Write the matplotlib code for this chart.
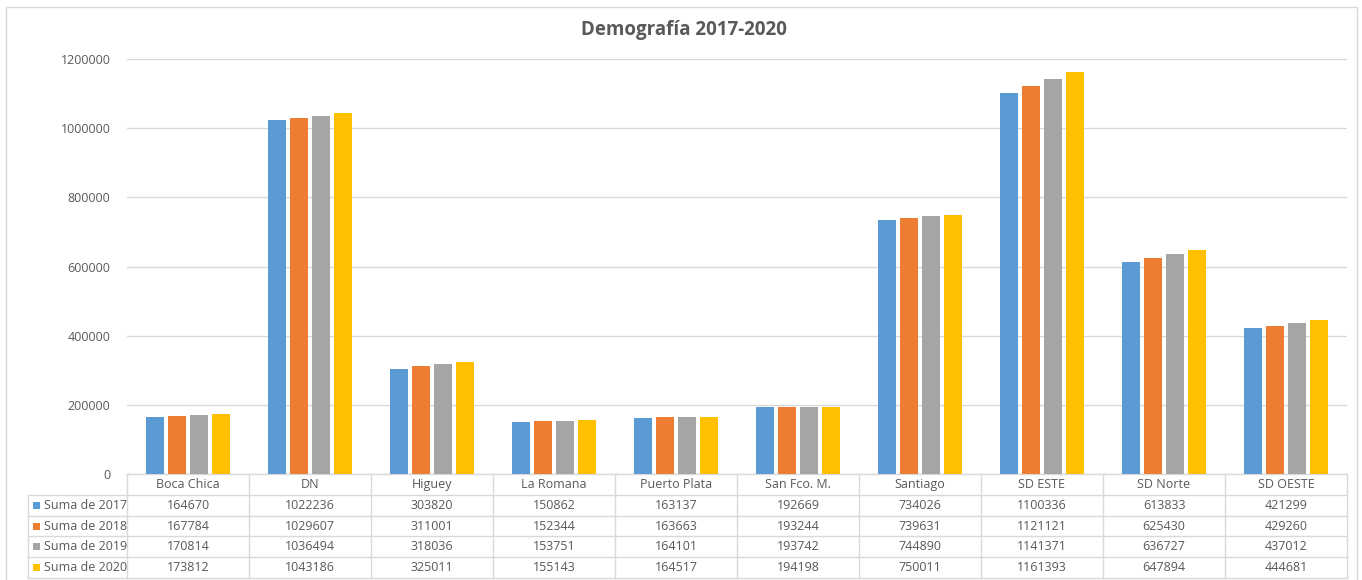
import numpy as np
import matplotlib
matplotlib.use("Agg")
import matplotlib.pyplot as plt
from matplotlib.patches import Rectangle
from matplotlib.transforms import blended_transform_factory

plt.rcParams['font.family'] = ['Open Sans', 'DejaVu Sans']

categories = ["Boca Chica", "DN", "Higuey", "La Romana", "Puerto Plata",
              "San Fco. M.", "Santiago", "SD ESTE", "SD Norte", "SD OESTE"]
series_names = ["Suma de 2017", "Suma de 2018", "Suma de 2019", "Suma de 2020"]
v2017 = [164670, 1022236, 303820, 150862, 163137, 192669, 734026, 1100336, 613833, 421299]
v2018 = [167784, 1029607, 311001, 152344, 163663, 193244, 739631, 1121121, 625430, 429260]
v2019 = [170814, 1036494, 318036, 153751, 164101, 193742, 744890, 1141371, 636727, 437012]
v2020 = [173812, 1043186, 325011, 155143, 164517, 194198, 750011, 1161393, 647894, 444681]
series = [v2017, v2018, v2019, v2020]
colors = ["#5B9BD5", "#ED7D31", "#A5A5A5", "#FFC000"]

W, H = 1362, 580
fig = plt.figure(figsize=(W / 100, H / 100), dpi=100)

# outer chart border
fig.add_artist(Rectangle((6 / W, -0.01), (1357 - 6) / W, 1 - 7 / H + 0.01,
                         transform=fig.transFigure, fill=False,
                         edgecolor="#d9d9d9", linewidth=1))

left, right, top, bottom = 127, 1347, 59, 474
ax = fig.add_axes([left / W, 1 - bottom / H, (right - left) / W, (bottom - top) / H])

n = len(categories)
x = np.arange(n)
step = 0.18
for i, (vals, c) in enumerate(zip(series, colors)):
    ax.bar(x + (i - 1.5) * step, vals, width=0.15, color=c, zorder=3)

ax.set_xlim(-0.5, n - 0.5)
ax.set_ylim(0, 1200000)
ax.set_yticks(np.arange(0, 1200001, 200000))
ax.set_yticklabels([str(t) for t in range(0, 1200001, 200000)])
ax.tick_params(axis='y', length=0, pad=12, labelsize=9, labelcolor="#595959")
ax.set_xticks([])
ax.grid(axis='y', color="#d9d9d9", linewidth=1, zorder=0)
for s in ax.spines.values():
    s.set_visible(False)

fig.text(684 / W, 1 - 30 / H, "Demografía 2017-2020",
         ha='center', va='center', fontsize=13.5, fontweight='bold', color="#595959")

# data table drawn by hand: x in data units, y in axes fraction
tr = blended_transform_factory(ax.transData, ax.transAxes)
px_x = n / (right - left)          # data units per pixel
px_y = 1 / (bottom - top)          # axes fraction per pixel
row_h = 20.8 * px_y
x_lab = -0.5 - (left - 28) * px_x  # left edge of row-label column
lc = "#d9d9d9"
kw = dict(transform=tr, clip_on=False, color=lc, linewidth=1)

# horizontal lines
for k in range(6):
    y = -k * row_h
    x0 = -0.5 if k == 0 else x_lab
    ax.plot([x0, n - 0.5], [y, y], **kw)
# vertical lines
for j in range(n + 1):
    ax.plot([j - 0.5, j - 0.5], [0, -5 * row_h], **kw)
ax.plot([x_lab, x_lab], [-row_h, -5 * row_h], **kw)

tc = "#595959"
for j, cat in enumerate(categories):
    ax.text(j, -0.5 * row_h, cat, transform=tr, ha='center', va='center',
            fontsize=9, color=tc)
for i, (name, vals, c) in enumerate(zip(series_names, series, colors)):
    yc = -(i + 1.5) * row_h
    ax.text(x_lab + 16 * px_x, yc, name, transform=tr, ha='left', va='center',
            fontsize=9, color=tc)
    ax.add_patch(Rectangle((x_lab + 5 * px_x, yc - 3.5 * px_y), 7 * px_x, 7 * px_y,
                           transform=tr, clip_on=False, facecolor=c, edgecolor='none'))
    for j, v in enumerate(vals):
        ax.text(j, yc, str(v), transform=tr, ha='center', va='center',
                fontsize=9, color=tc)

fig.savefig("out.png", dpi=100)
